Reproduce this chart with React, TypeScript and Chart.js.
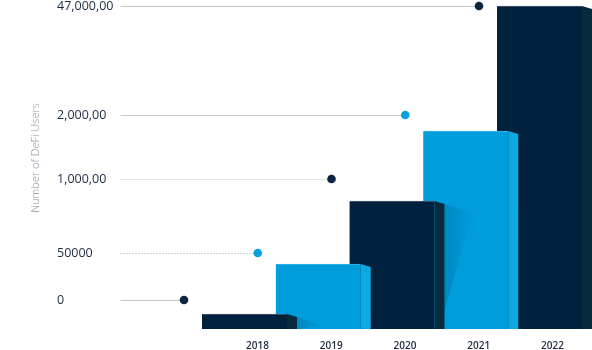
import { useEffect, useRef } from "react";
import { Chart, registerables } from "chart.js";

Chart.register(...registerables);

// ---- data ----
const years = ["2018", "2019", "2020", "2021", "2022"];
// visual bar heights (axis units, 0 at the base line)
const barHeights = [15, 65, 128, 198, 323];
// level of each marker dot / label on the same axis
const markerLevels = [29, 76, 150, 214, 323];
const tickLabels = ["0", "50000", "1,000,00", "2,000,00", "47,000,00"];
const axisTitle = "Number of DeFi Users";

// ---- styles ----
const DARK = "#00223f";
const BLUE = "#009ddc";
const frontColors = [DARK, BLUE, DARK, BLUE, DARK];
const sideColors = ["#072a3e", "#0ea9e1", "#072a3e", "#0ea9e1", "#072a3e"];
const edgeColors = ["#4d5e70", "#3fb4e6", "#4d5e70", "#3fb4e6", "#4d5e70"];
const leaderColors = ["#c4c4c4", "#a9a9a9", "#e6e6e6", "#c8c8c8", "#c8c8c8"];
const leaderDash = [[], [1, 2], [], [], []];
const TEXT = "#1c2b40";
const FONT = "'Open Sans', 'DejaVu Sans', sans-serif";

const depthPlugin = {
  id: "depth3d",
  afterDatasetDraw(chart: any, args: any) {
    const i = args.index;
    const el = args.meta.data[i];
    if (!el) return;
    const { x, y, base, width } = el.getProps(["x", "y", "base", "width"], true);
    const ctx = chart.ctx;
    const right = x + width / 2;
    const depth = 10;
    const slope = 3;
    ctx.save();
    // soft shadow cast onto the bar behind
    if (i < years.length - 1) {
      const sx = right + depth;
      const g = ctx.createLinearGradient(sx, 0, sx + 28, 0);
      g.addColorStop(0, "rgba(0,20,40,0.16)");
      g.addColorStop(1, "rgba(0,20,40,0)");
      ctx.beginPath();
      ctx.moveTo(sx, y + slope);
      ctx.lineTo(sx + 28, y + 12);
      ctx.lineTo(sx, Math.min(base, y + 110));
      ctx.closePath();
      ctx.fillStyle = g;
      ctx.fill();
    }
    // side face
    ctx.beginPath();
    ctx.moveTo(right, y);
    ctx.lineTo(right + depth, y + slope);
    ctx.lineTo(right + depth, base);
    ctx.lineTo(right, base);
    ctx.closePath();
    ctx.fillStyle = sideColors[i];
    ctx.fill();
    ctx.restore();
  },
};

const markerPlugin = {
  id: "markers",
  afterDraw(chart: any) {
    const ctx = chart.ctx;
    const yScale = chart.scales.y;
    ctx.save();
    // tick labels
    ctx.font = `500 12.5px ${FONT}`;
    ctx.fillStyle = TEXT;
    ctx.textAlign = "left";
    ctx.textBaseline = "middle";
    let widest = 0;
    tickLabels.forEach((t) => (widest = Math.max(widest, ctx.measureText(t).width)));
    const startX = yScale.left + widest + 7;
    markerLevels.forEach((lv, i) => {
      const py = yScale.getPixelForValue(lv);
      ctx.fillStyle = TEXT;
      ctx.fillText(tickLabels[i], yScale.left, py);
      const meta = chart.getDatasetMeta(i);
      const el = meta.data[i];
      const { x, width } = el.getProps(["x", "width"], true);
      const dotX = x - width / 2 - 18;
      ctx.beginPath();
      ctx.setLineDash(leaderDash[i]);
      ctx.strokeStyle = leaderColors[i];
      ctx.lineWidth = 1;
      ctx.moveTo(startX, Math.round(py) + 0.5);
      ctx.lineTo(dotX, Math.round(py) + 0.5);
      ctx.stroke();
      ctx.setLineDash([]);
      ctx.beginPath();
      ctx.arc(dotX, py, 4.3, 0, Math.PI * 2);
      ctx.fillStyle = frontColors[i] === DARK ? "#0b2440" : "#0aa0e0";
      ctx.fill();
    });
    // axis title
    ctx.translate(yScale.left - 21, 158);
    ctx.rotate(-Math.PI / 2);
    ctx.font = `300 11px ${FONT}`;
    ctx.fillStyle = "#8a95a2";
    ctx.textAlign = "center";
    ctx.fillText(axisTitle, 0, 0);
    ctx.restore();
  },
};

export default function App() {
  const ref = useRef<HTMLCanvasElement | null>(null);
  useEffect(() => {
    if (!ref.current) return;
    const chart = new Chart(ref.current, {
      type: "bar",
      data: {
        labels: years,
        datasets: years.map((yr, i) => ({
          label: yr,
          data: years.map((_, j) => (j === i ? barHeights[i] : null)),
          backgroundColor: frontColors[i],
          borderColor: edgeColors[i],
          borderWidth: { top: 1, left: 0, right: 0, bottom: 0 },
          borderSkipped: false,
          barThickness: 85,
          grouped: false,
          order: i,
          clip: false,
        })) as any,
      },
      options: {
        responsive: false,
        animation: false,
        devicePixelRatio: 1,
        layout: { padding: { left: 57, right: 15.625, top: 6, bottom: 0 } },
        plugins: { legend: { display: false }, tooltip: { enabled: false } },
        scales: {
          x: {
            type: "category",
            offset: true,
            grid: { display: false, drawTicks: false },
            border: { display: false },
            ticks: {
              color: TEXT,
              font: { family: FONT, size: 10, weight: "600" as any },
              labelOffset: 13,
              padding: 11,
              maxRotation: 0,
              autoSkip: false,
            },
            afterFit: (s: any) => {
              s.height = 21;
              s.paddingLeft = 0;
              s.paddingRight = 0;
            },
          },
          y: {
            min: 0,
            max: 323,
            grid: { display: false, drawTicks: false },
            border: { display: false },
            ticks: { display: false },
            afterFit: (s: any) => {
              s.width = 150.625;
              s.paddingTop = 0;
              s.paddingBottom = 0;
            },
          },
        },
      },
      plugins: [depthPlugin, markerPlugin],
    });
    return () => chart.destroy();
  }, []);
  return (
    <div style={{ position: "absolute", left: 0, top: 0, width: 592, height: 350 }}>
      <canvas ref={ref} width={592} height={350} />
    </div>
  );
}
